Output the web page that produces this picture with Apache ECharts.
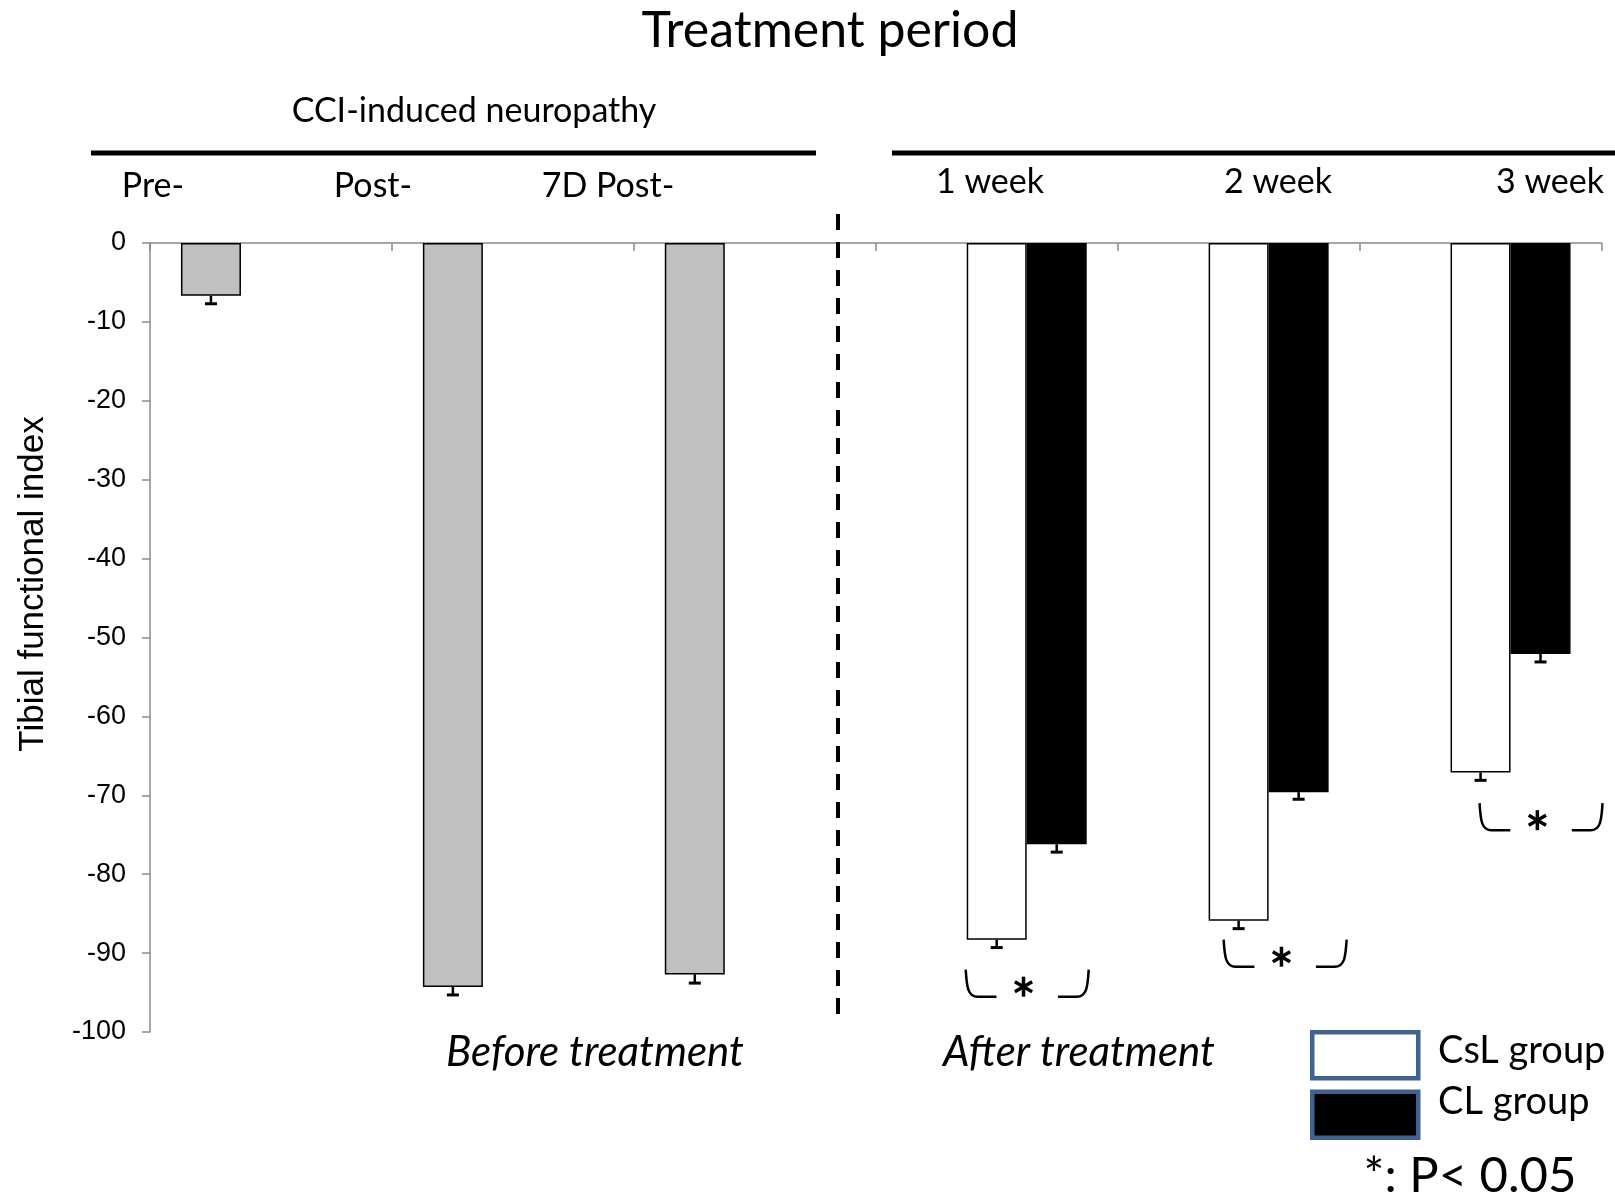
<!DOCTYPE html>
<html>
<head>
<meta charset="utf-8">
<title>Tibial functional index</title>
<script src="https://cdn.jsdelivr.net/npm/echarts@6/dist/echarts.min.js"></script>
<style>
  html, body { margin: 0; padding: 0; background: #fff; }
  #chart { width: 1615px; height: 1198px; }
</style>
</head>
<body>
<div id="chart"></div>
<script>
// Time points (before and after treatment)
const categories = ['Pre-', 'Post-', '7D Post-', '1 week', '2 week', '3 week'];

// CCI-induced neuropathy phase (all animals)
const cciValues = [-6.7, -94.3, -92.7, null, null, null];
const cciErrors = [1.0, 1.0, 1.1, null, null, null];

// CsL group
const cslValues = [null, null, null, -88.3, -85.9, -67.1];
const cslErrors = [null, null, null, 1.0, 1.0, 1.0];

// CL group
const clValues = [null, null, null, -76.2, -69.6, -52.1];
const clErrors = [null, null, null, 1.0, 0.9, 1.0];

// Significance brackets (top of bracket, in index units)
const sigBracketTop = [null, null, null, -92.1, -88.3, -71.0];

// Group names shown in the legend
const groupNames = ['CsL group', 'CL group'];

// Value axis
const yMin = -100;
const yMax = 0;
const yInterval = 10;

const TEXT_FONT = 'Lato';
const AXIS_FONT = 'Liberation Sans';
const BAR_W = 60;

// Horizontal nudge of each bracket (px)
const bracketShift = [0, 0, 0, 0, 16, 30];

function rows(values, extra) {
  return values
    .map((v, i) => (v == null ? null : extra ? [i, v, extra[i]] : [i, v]))
    .filter(Boolean);
}

// Downward-only error bar; offset = horizontal shift of the bar slot
function errorBar(offset) {
  return function (params, api) {
    const i = api.value(0);
    const v = api.value(1);
    const e = api.value(2);
    const a = api.coord([i, v]);
    const b = api.coord([i, v - e]);
    const x = a[0] + offset;
    return {
      type: 'group',
      children: [
        { type: 'line', shape: { x1: x, y1: a[1], x2: x, y2: b[1] },
          style: { stroke: '#000', lineWidth: 2.5 } },
        { type: 'line', shape: { x1: x - 6, y1: b[1], x2: x + 6, y2: b[1] },
          style: { stroke: '#000', lineWidth: 3 } }
      ]
    };
  };
}

// "( * )" significance bracket spanning the CsL and CL bars
function bracket(params, api) {
  const i = api.value(0);
  const p = api.coord([i, api.value(1)]);
  const shift = bracketShift[i] || 0;
  const x0 = p[0] - BAR_W / 2 - 1 + shift;
  const x1 = p[0] + BAR_W * 1.5 + 2 + shift;
  const y0 = p[1];
  const y1 = y0 + 27;
  const w = x1 - x0;
  const ax = x0 + w * 0.47;
  const ay = y0 + 17;
  const r = 10;
  const st = { stroke: '#000', lineWidth: 2.5, fill: null };
  const arm = (ang) => {
    const dx = Math.cos(ang) * r, dy = Math.sin(ang) * r;
    return { type: 'line', shape: { x1: ax - dx, y1: ay - dy, x2: ax + dx, y2: ay + dy },
      style: { stroke: '#000', lineWidth: 3.5 } };
  };
  return {
    type: 'group',
    children: [
      { type: 'path', shape: { pathData:
          `M${x0},${y0} C${x0 + 1},${y1 - 10} ${x0 + 2},${y1} ${x0 + 12},${y1} L${x0 + w * 0.25},${y1}` },
        style: st },
      { type: 'path', shape: { pathData:
          `M${x0 + w * 0.75},${y1} L${x1 - 12},${y1} C${x1 - 2},${y1} ${x1 - 1},${y1 - 10} ${x1},${y0}` },
        style: st },
      arm(Math.PI / 2), arm(Math.PI / 6), arm(-Math.PI / 6)
    ]
  };
}

// Label anchors for the time points (x, y in px)
const catLabelPos = [[153, 186], [373, 186], [608, 186], [990, 182], [1278, 182], [1550, 182]];
// Legend caption anchors (left x, middle y in px)
const groupLabelPos = [[1438, 1051], [1438, 1102]];

const chart = echarts.init(document.getElementById('chart'), null, { renderer: 'canvas' });

const graphics = [
  { type: 'text', x: 830, y: 31, style: { text: 'Treatment period', font: `50px ${TEXT_FONT}`,
      fill: '#000', align: 'center', verticalAlign: 'middle' } },
  { type: 'text', x: 474, y: 111, style: { text: 'CCI-induced neuropathy', font: `34px ${TEXT_FONT}`,
      fill: '#000', align: 'center', verticalAlign: 'middle' } },
  { type: 'line', shape: { x1: 91, y1: 153, x2: 816, y2: 153 }, style: { stroke: '#000', lineWidth: 5 } },
  { type: 'line', shape: { x1: 892, y1: 153, x2: 1615, y2: 153 }, style: { stroke: '#000', lineWidth: 5 } },
  { type: 'line', shape: { x1: 838, y1: 214, x2: 838, y2: 1015 },
    style: { stroke: '#000', lineWidth: 4, lineDash: [16, 12] }, z: 10 },
  { type: 'text', x: 33, y: 584, rotation: Math.PI / 2,
    style: { text: 'Tibial functional index', font: `35px ${AXIS_FONT}`, fill: '#000',
      align: 'center', verticalAlign: 'middle' } },
  { type: 'text', x: 595, y: 1052, style: { text: 'Before treatment', font: `italic 42px ${TEXT_FONT}`,
      fill: '#000', align: 'center', verticalAlign: 'middle' } },
  { type: 'text', x: 1079, y: 1052, style: { text: 'After treatment', font: `italic 42px ${TEXT_FONT}`,
      fill: '#000', align: 'center', verticalAlign: 'middle' } },
  { type: 'text', x: 1470, y: 1176, style: { text: '*: P< 0.05', font: `49px ${TEXT_FONT}`,
      fill: '#000', align: 'center', verticalAlign: 'middle' } }
];
categories.forEach((c, i) => {
  graphics.push({ type: 'text', x: catLabelPos[i][0], y: catLabelPos[i][1],
    style: { text: c, font: `34px ${TEXT_FONT}`, fill: '#000', align: 'center', verticalAlign: 'middle' } });
});
groupNames.forEach((g, i) => {
  graphics.push({ type: 'text', x: groupLabelPos[i][0], y: groupLabelPos[i][1],
    style: { text: g, font: `38px ${TEXT_FONT}`, fill: '#000', align: 'left', verticalAlign: 'middle' } });
});

const option = {
  animation: false,
  backgroundColor: '#fff',
  grid: { left: 150, top: 243, width: 1451.5, height: 789, containLabel: false },
  legend: {
    data: groupNames,
    orient: 'vertical',
    left: 1310, top: 1030, padding: 0,
    itemWidth: 106, itemHeight: 46, itemGap: 9,
    icon: 'rect',
    selectedMode: false,
    formatter: () => '',
    itemStyle: { borderColor: '#41628f', borderWidth: 4.5 },
    textStyle: { fontSize: 10, lineHeight: 10 }
  },
  xAxis: {
    type: 'category',
    data: categories,
    position: 'top',
    boundaryGap: true,
    axisLine: { lineStyle: { color: '#8a8a8a', width: 1.5 } },
    axisTick: { show: true, inside: true, length: 8, lineStyle: { color: '#8a8a8a', width: 1.5 } },
    axisLabel: { show: false },
    splitLine: { show: false }
  },
  yAxis: {
    type: 'value',
    min: yMin, max: yMax, interval: yInterval,
    axisLine: { show: true, lineStyle: { color: '#8a8a8a', width: 1.5 } },
    axisTick: { show: true, length: 8, lineStyle: { color: '#8a8a8a', width: 1.5 } },
    axisLabel: { fontFamily: AXIS_FONT, fontSize: 27, color: '#000', margin: 24 },
    splitLine: { show: false }
  },
  series: [
    { name: 'CCI', type: 'bar', data: cciValues, barWidth: BAR_W, barGap: '0%',
      itemStyle: { color: '#c0c0c0', borderColor: '#000', borderWidth: 1.5 } },
    { name: groupNames[0], type: 'bar', data: cslValues, barWidth: BAR_W, barGap: '0%',
      itemStyle: { color: '#fff', borderColor: '#000', borderWidth: 1.5 } },
    { name: groupNames[1], type: 'bar', data: clValues, barWidth: BAR_W, barGap: '0%',
      itemStyle: { color: '#000', borderColor: '#000', borderWidth: 1.5 } },
    { type: 'custom', data: rows(cciValues, cciErrors), renderItem: errorBar(-BAR_W), z: 5 },
    { type: 'custom', data: rows(cslValues, cslErrors), renderItem: errorBar(0), z: 5 },
    { type: 'custom', data: rows(clValues, clErrors), renderItem: errorBar(BAR_W), z: 5 },
    { type: 'custom', data: rows(sigBracketTop), renderItem: bracket, z: 5 }
  ],
  graphic: graphics
};

chart.setOption(option);
</script>
</body>
</html>
